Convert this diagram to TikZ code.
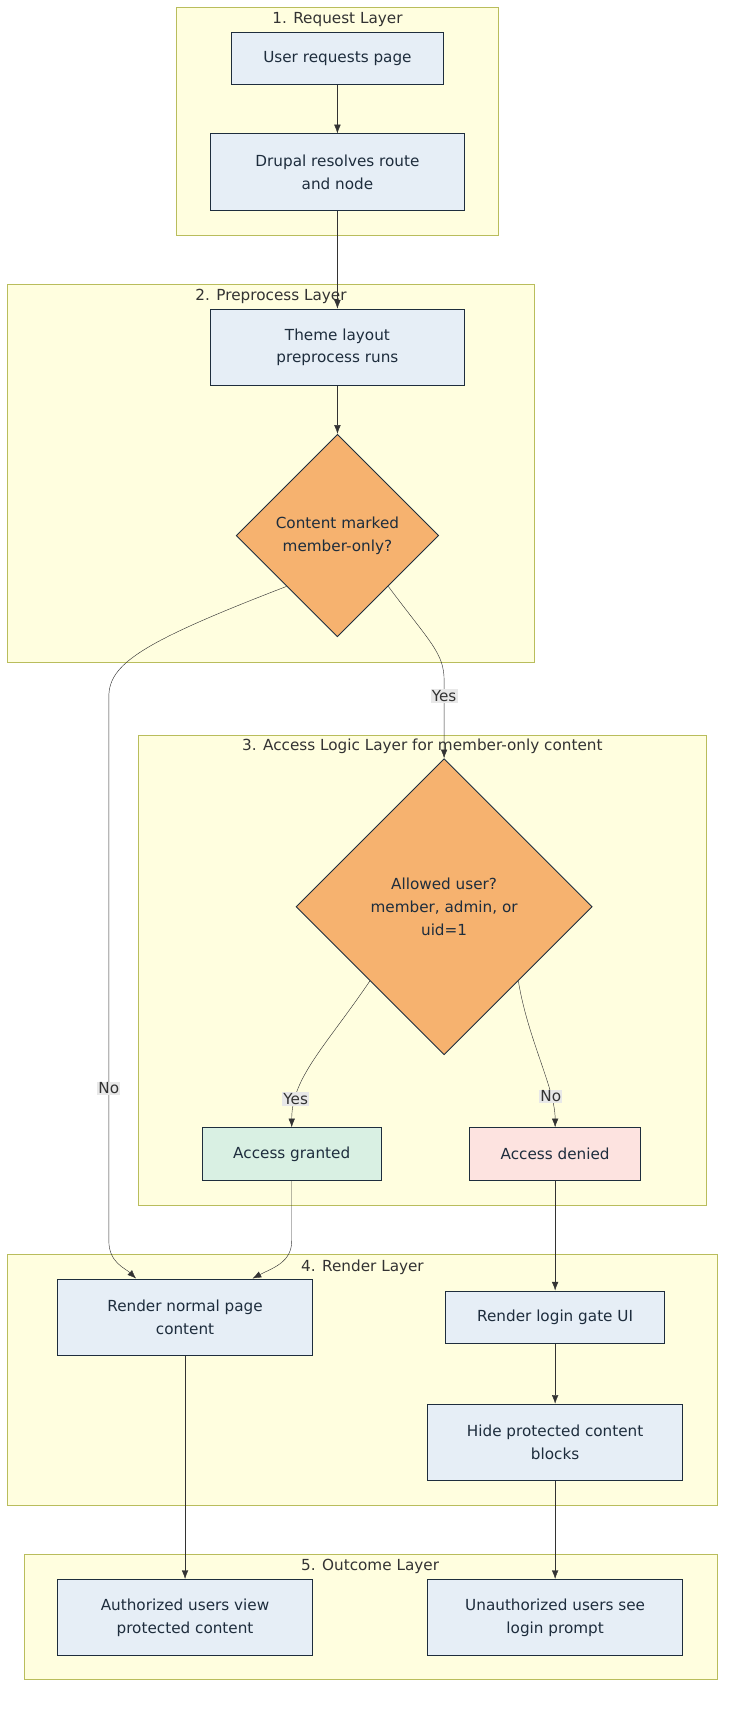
\documentclass[tikz,border=0pt]{standalone}
\usepackage{fontspec}
\setmainfont{DejaVu Sans}
\usetikzlibrary{shapes.geometric,arrows.meta,positioning}
\definecolor{clfill}{HTML}{FFFEDF}
\definecolor{cldraw}{HTML}{B9BD5C}
\definecolor{boxfill}{HTML}{E6EEF6}
\definecolor{boxdraw}{HTML}{1E2D3D}
\definecolor{decfill}{HTML}{F6B26F}
\definecolor{okfill}{HTML}{D9F0E3}
\definecolor{nofill}{HTML}{FDE3E0}
\definecolor{lblfill}{HTML}{E8E8E8}
\definecolor{txt}{HTML}{333333}
\tikzset{
  box/.style={draw=boxdraw,fill=boxfill,thick,rectangle,align=center,text=boxdraw,
    font=\fontsize{14}{21}\selectfont,inner sep=0pt},
  dec/.style={draw=boxdraw,fill=decfill,thick,diamond,aspect=1,align=center,text=boxdraw,
    font=\fontsize{14}{21}\selectfont,inner sep=0pt},
  layer/.style={draw=cldraw,fill=clfill},
  ltitle/.style={text=txt,font=\fontsize{14}{16}\selectfont},
  edge/.style={draw=txt,-{Latex[length=8pt,width=6pt]}},
  elabel/.style={fill=lblfill,text=txt,font=\fontsize{14}{16}\selectfont,inner sep=1pt}
}
\begin{document}
\begin{tikzpicture}[x=1pt,y=-1pt]
      \useasboundingbox (0,0) rectangle (680,1582);

      % layers
      \draw[layer] (162,7) rectangle (458,216);
      \node[ltitle] at (310,18) {1. Request Layer};
      \draw[layer] (7,261) rectangle (491,608);
      \node[ltitle] at (249,272) {2. Preprocess Layer};
      \draw[layer] (127,675) rectangle (649,1107);
      \node[ltitle] at (388,686) {3. Access Logic Layer for member-only content};
      \draw[layer] (7,1152) rectangle (659,1383);
      \node[ltitle] at (333,1164) {4. Render Layer};
      \draw[layer] (22,1428) rectangle (659,1543);
      \node[ltitle] at (340,1439) {5. Outcome Layer};

      % nodes
      \node[box,minimum width=194,minimum height=48] (req) at (310,54) {User requests page};
      \node[box,minimum width=234,minimum height=70] (route) at (310,158) {Drupal resolves route\\and node};
      \node[box,minimum width=234,minimum height=70] (theme) at (310,319) {Theme layout\\preprocess runs};
      \node[dec,minimum width=186,minimum height=186] (member) at (310,492) {Content marked\\member-only?};
      \node[dec,minimum width=272,minimum height=272] (allowed) at (408,833) {Allowed user?\\member, admin, or\\uid=1};
      \node[box,fill=okfill,minimum width=164,minimum height=48] (granted) at (268,1060) {Access granted};
      \node[box,fill=nofill,minimum width=157,minimum height=48] (denied) at (510,1060) {Access denied};
      \node[box,minimum width=234,minimum height=70] (normal) at (170,1210) {Render normal page\\content};
      \node[box,minimum width=201,minimum height=48] (gate) at (510,1210) {Render login gate UI};
      \node[box,minimum width=234,minimum height=70] (hide) at (510,1325) {Hide protected content\\blocks};
      \node[box,minimum width=234,minimum height=70] (auth) at (170,1486) {Authorized users view\\protected content};
      \node[box,minimum width=234,minimum height=70] (unauth) at (510,1486) {Unauthorized users see\\login prompt};

      % connectors
      \draw[edge] (req) -- (route);
      \draw[edge] (route) -- (theme);
      \draw[edge] (theme) -- (member);
      \draw[edge] (member.south east) .. controls (395,590) and (408,600) .. (408,625)
        -- node[elabel,pos=0.2] {Yes} (allowed.north);
      \draw[edge] (member.south west) .. controls (130,590) and (100,610) .. (100,640)
        -- node[elabel,pos=0.72] {No} (100,1140) .. controls (100,1160) and (115,1165) .. (normal.north west -| 125,0);
      \draw[edge] (allowed.south west) .. controls (300,960) and (268,990) .. node[elabel,pos=0.8] {Yes} (granted.north);
      \draw[edge] (allowed.south east) .. controls (485,955) and (510,1000) .. node[elabel,pos=0.75] {No} (denied.north);
      \draw[edge] (granted.south) -- (268,1140) .. controls (268,1160) and (250,1165) .. (normal.north -| 232,0);
      \draw[edge] (denied) -- (gate);
      \draw[edge] (gate) -- (hide);
      \draw[edge] (normal) -- (auth);
      \draw[edge] (hide) -- (unauth);
\end{tikzpicture}
\end{document}
